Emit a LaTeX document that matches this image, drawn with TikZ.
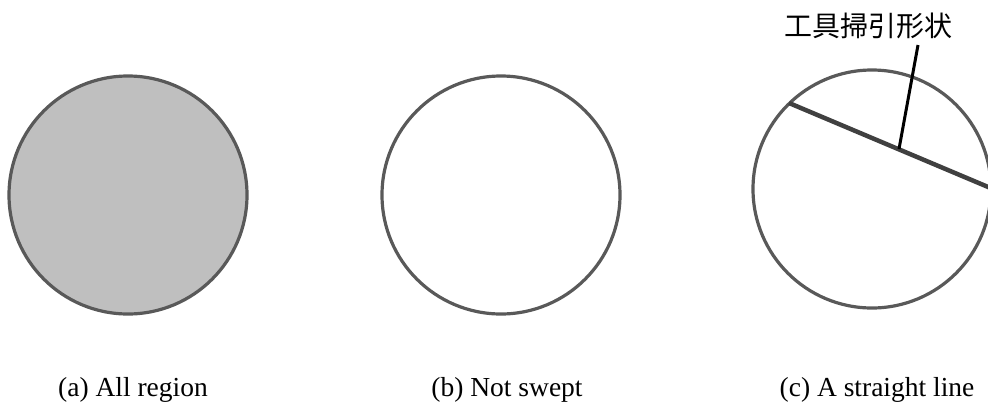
\documentclass[tikz,border=0pt]{standalone}
\usepackage{fontspec}
\setmainfont{Liberation Serif}
\newfontfamily\jpfont{Noto Sans CJK JP}
\usepackage{xcolor}
\usetikzlibrary{positioning, calc}
\definecolor{rimGray}{RGB}{89, 89, 89}
\definecolor{fillGray}{RGB}{191, 191, 191}
\definecolor{toolGray}{RGB}{64, 64, 64}

\begin{document}
\begin{tikzpicture}[x=1pt, y=-1pt,
    region/.style={draw=rimGray, line width=3.2pt, circle, minimum size=238pt, inner sep=0pt},
    caption/.style={anchor=base, font=\fontsize{27.5}{30}\selectfont, inner sep=0pt}]
        \useasboundingbox (0,0) rectangle (988,410);

        \node[region, fill=fillGray] (all) at (128,195) {};
        \node[region] (notswept) at (501,195) {};
        \node[region] (straight) at (872,189) {};

        % tool sweep line and its leader
        \coordinate (toolA) at (789,103);
        \coordinate (toolB) at (1000,192);
        \coordinate (leadfoot) at (899,149);
        \coordinate (leadtop) at (918,45);
        \draw[toolGray, line width=4.5pt] (toolA) -- (toolB);
        \draw[black, line width=3pt] (leadtop) -- (leadfoot);
        \node[font=\jpfont\fontsize{28}{30}\selectfont, inner sep=0pt] (toollabel) at (868,26) {工具掃引形状};

        \node[caption] (capall) at (133,396) {(a) All region};
        \node[caption] (capnot) at (507,396) {(b) Not swept};
        \node[caption] (capline) at (877,396) {(c) A straight line};
    \end{tikzpicture}
\end{document}
